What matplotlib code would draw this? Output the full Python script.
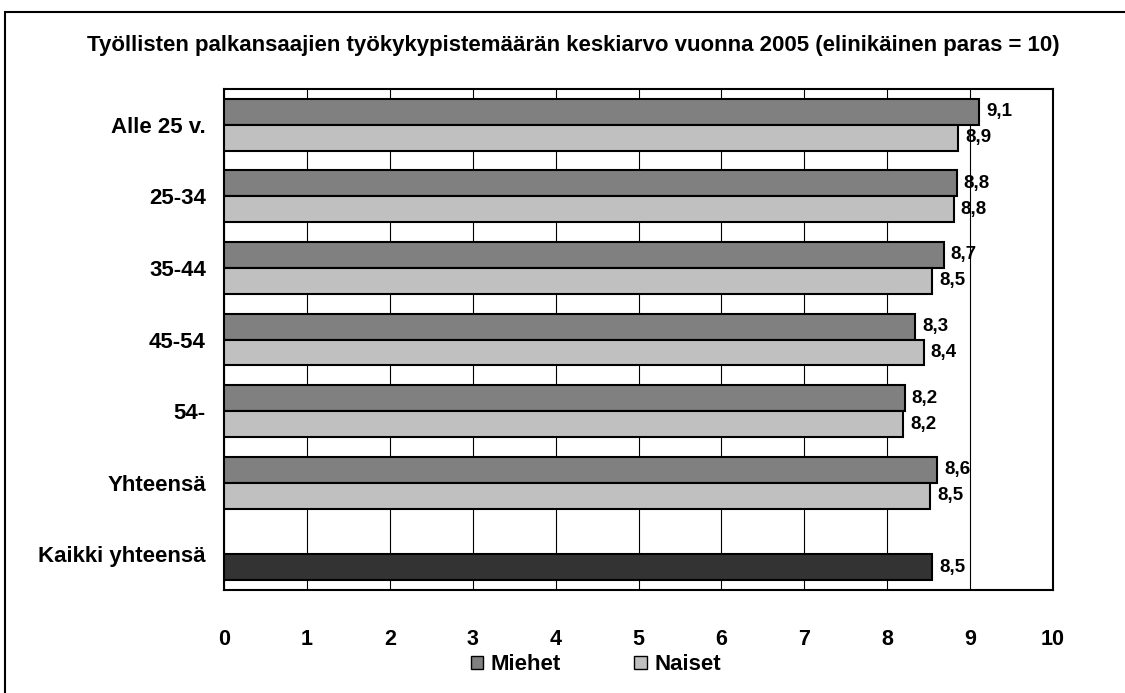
import matplotlib.pyplot as plt
import matplotlib.patches as mpatches
import numpy as np

plt.rcParams['font.family'] = ['Liberation Sans', 'DejaVu Sans']
plt.rcParams['font.weight'] = 'bold'

# Data
categories = ['Alle 25 v.', '25-34', '35-44', '45-54', '54-', 'Yhteensä', 'Kaikki yhteensä']
miehet = [9.11, 8.84, 8.68, 8.34, 8.21, 8.60]
naiset = [8.86, 8.80, 8.54, 8.44, 8.19, 8.52]
kaikki = 8.54

title = 'Työllisten palkansaajien työkykypistemäärän keskiarvo vuonna 2005 (elinikäinen paras = 10)'

def fmt(v):
    return f'{v:.1f}'.replace('.', ',')

fig = plt.figure(figsize=(11.25, 6.93), dpi=100)
ax = fig.add_axes([224/1125, 1 - 590/693, (1053-224)/1125, (590-89)/693])

h = 0.363
y = np.arange(len(categories))
ym = y[:6] - h/2
yn = y[:6] + h/2

ax.barh(ym, miehet, height=h, color='#808080', edgecolor='black', linewidth=1.5, zorder=3)
ax.barh(yn, naiset, height=h, color='#c0c0c0', edgecolor='black', linewidth=1.5, zorder=3)
ax.barh(y[6] + h/2, kaikki, height=h, color='#333333', edgecolor='black', linewidth=1.5, zorder=3)

# value labels
labels = list(zip(ym, miehet)) + list(zip(yn, naiset)) + [(y[6] + h/2, kaikki)]
for yy, v in labels:
    ax.annotate(fmt(v), (v, yy), xytext=(5, 0), textcoords='offset points',
                va='center', ha='left', fontsize=13.5, fontweight='bold', zorder=4)

ax.set_xlim(0, 10)
ax.set_ylim(len(categories) - 0.5, -0.5)
ax.set_xticks(range(11))
ax.set_yticks(y)
ax.set_yticklabels(categories)
ax.tick_params(axis='x', length=0, pad=28, labelsize=15.5)
ax.tick_params(axis='y', length=0, pad=13, labelsize=16)
for lab in ax.get_xticklabels() + ax.get_yticklabels():
    lab.set_fontweight('bold')
ax.grid(axis='x', color='black', linewidth=0.8, zorder=0)
for s in ax.spines.values():
    s.set_linewidth(1.5)
    s.set_color('black')

fig.text(573/1125, 1 - 46/693, title, ha='center', va='center', fontsize=16, fontweight='bold')

handles = [mpatches.Patch(facecolor='#808080', edgecolor='black', label='Miehet'),
           mpatches.Patch(facecolor='#c0c0c0', edgecolor='black', label='Naiset')]
fig.legend(handles=handles, loc='center', bbox_to_anchor=(596/1125, 1 - 665/693), ncol=2,
           frameon=False, handlelength=0.55, handleheight=0.55, handletextpad=0.35,
           columnspacing=3.3, prop={'weight': 'bold', 'size': 16})

# outer frame (cropped chart border)
fig.patches.append(mpatches.Rectangle((5/1125, -0.1), 1.2, (693-12)/693 + 0.1,
                                      transform=fig.transFigure, fill=False,
                                      edgecolor='black', linewidth=1.5))

fig.savefig('out.png', dpi=100)
